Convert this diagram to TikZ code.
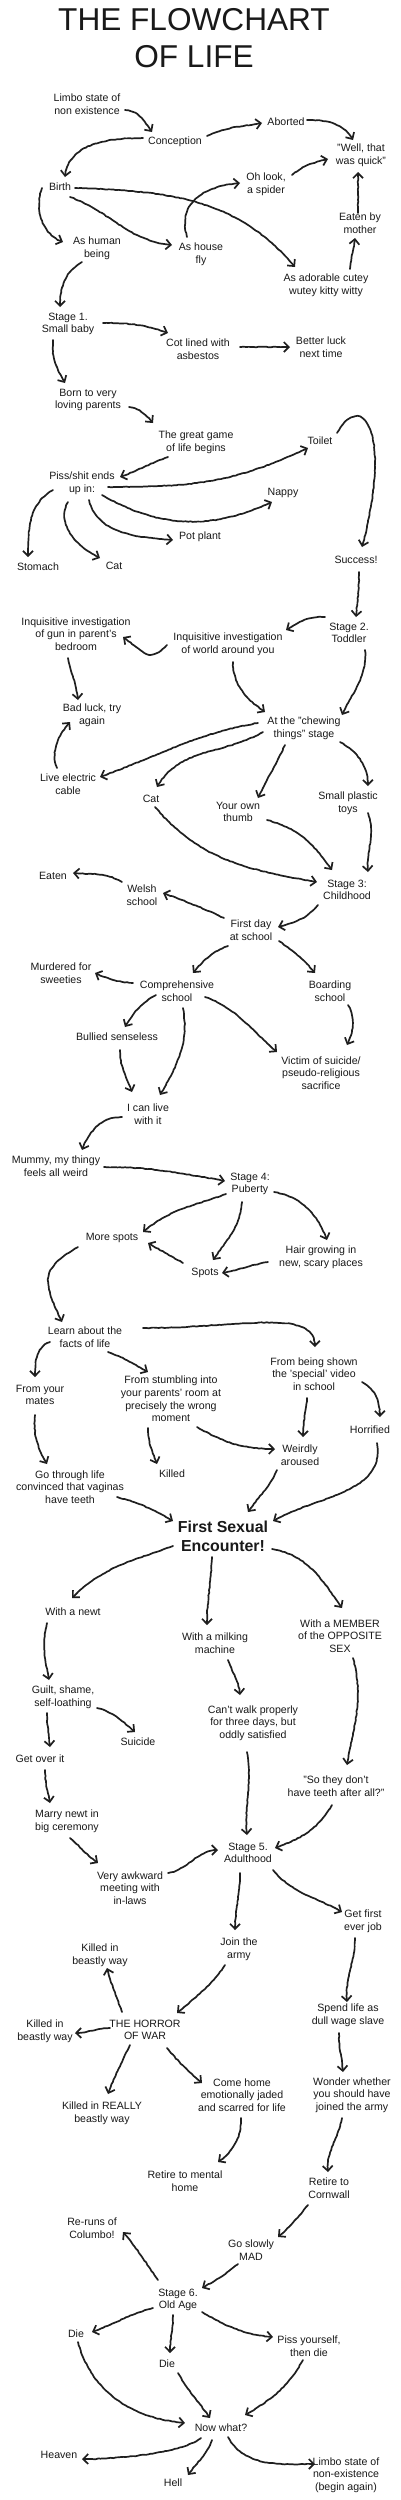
\documentclass[tikz,border=0pt]{standalone}
\usepackage{fontspec}
\setmainfont{Liberation Sans}
\usetikzlibrary{arrows.meta,decorations.pathmorphing}
\begin{document}
\begin{tikzpicture}[x=1pt,y=1pt,
  lbl/.style={align=center, inner sep=0pt, text=black!90, font=\fontsize{10.6}{12.6}\selectfont},
  big/.style={align=center, inner sep=0pt, text=black!90, font=\bfseries\fontsize{15.9}{19}\selectfont},
  ar/.style={draw=black!88, line width=1.7pt, line cap=round, line join=round,
    -{Straight Barb[length=5pt,width=10pt,line width=1.7pt]},
    decorate, decoration={random steps, segment length=2.5pt, amplitude=0.35pt, pre length=1pt, post length=4pt}}]
\pgfmathsetseed{7}
\fill[white] (0,0) rectangle (400,-2500);
\useasboundingbox (0,0) rectangle (400,-2500);

\node[align=center, inner sep=0pt, text=black!90, font=\fontsize{31.6}{36.6}\selectfont] (ttl) at (194,-38) {THE FLOWCHART\\OF LIFE};

\node[lbl] (lim) at (87,-104) {Limbo state of\\non existence};
\node[lbl] (con) at (175,-142) {Conception};
\node[lbl] (abo) at (286,-122) {Aborted};
\node[lbl] (wel) at (361,-155) {"Well, that\\was quick"};
\node[lbl] (spi) at (266,-184) {Oh look,\\a spider};
\node[lbl] (bir) at (60,-187) {Birth};
\node[lbl] (eat) at (360,-223) {Eaten by\\mother};
\node[lbl] (hum) at (97,-248) {As human\\being};
\node[lbl] (fly) at (201,-254) {As house\\fly};
\node[lbl] (kit) at (326,-285) {As adorable cutey\\wutey kitty witty};
\node[lbl] (st1) at (68,-324) {Stage 1.\\Small baby};
\node[lbl] (cot) at (198,-349) {Cot lined with\\asbestos};
\node[lbl] (bet) at (321,-347) {Better luck\\next time};
\node[lbl] (bor) at (88,-400) {Born to very\\loving parents};
\node[lbl] (gam) at (196,-442) {The great game\\of life begins};
\node[lbl] (toi) at (320,-441) {Toilet};
\node[lbl] (pis) at (82,-483) {Piss/shit ends\\up in:};
\node[lbl] (nap) at (283,-493) {Nappy};
\node[lbl] (pot) at (200,-537) {Pot plant};
\node[lbl] (sto) at (38,-567) {Stomach};
\node[lbl] (cat) at (114,-566) {Cat};
\node[lbl] (suc) at (356,-560) {Success!};
\node[lbl] (gun) at (76,-634) {Inquisitive investigation\\of gun in parent's\\bedroom};
\node[lbl] (st2) at (349,-633) {Stage 2.\\Toddler};
\node[lbl] (wor) at (228,-644) {Inquisitive investigation\\of world around you};
\node[lbl] (bad) at (92,-715) {Bad luck, try\\again};
\node[lbl] (che) at (304,-728) {At the "chewing\\things" stage};
\node[lbl] (liv) at (68,-784) {Live electric\\cable};
\node[lbl] (ca2) at (151,-799) {Cat};
\node[lbl] (thu) at (238,-812) {Your own\\thumb};
\node[lbl] (toy) at (348,-803) {Small plastic\\toys};
\node[lbl] (etn) at (53,-876) {Eaten};
\node[lbl] (wls) at (142,-895) {Welsh\\school};
\node[lbl] (st3) at (347,-890) {Stage 3:\\Childhood};
\node[lbl] (fst) at (251,-930) {First day\\at school};
\node[lbl] (mur) at (61,-973) {Murdered for\\sweeties};
\node[lbl] (com) at (177,-991) {Comprehensive\\school};
\node[lbl] (boa) at (330,-991) {Boarding\\school};
\node[lbl] (bul) at (117,-1037) {Bullied senseless};
\node[lbl] (vic) at (321,-1073) {Victim of suicide/\\pseudo-religious\\sacrifice};
\node[lbl] (liw) at (148,-1114) {I can live\\with it};
\node[lbl] (mum) at (56,-1166) {Mummy, my thingy\\feels all weird};
\node[lbl] (st4) at (250,-1184) {Stage 4:\\Puberty};
\node[lbl] (mor) at (112,-1238) {More spots};
\node[lbl] (hai) at (321,-1257) {Hair growing in\\new, scary places};
\node[lbl] (spo) at (205,-1273) {Spots};
\node[lbl] (lea) at (85,-1337) {Learn about the\\facts of life};
\node[lbl] (vid) at (314,-1374) {From being shown\\the 'special' video\\in school};
\node[lbl] (mat) at (40,-1395) {From your\\mates};
\node[lbl] (stu) at (171,-1399) {From stumbling into\\your parents' room at\\precisely the wrong\\moment};
\node[lbl] (hor) at (370,-1430) {Horrified};
\node[lbl] (wei) at (300,-1455) {Weirdly\\aroused};
\node[lbl] (got) at (70,-1487) {Go through life\\convinced that vaginas\\have teeth};
\node[lbl] (kil) at (172,-1474) {Killed};
\node[big] (fse) at (223,-1536) {First Sexual\\Encounter!};
\node[lbl] (new) at (73,-1612) {With a newt};
\node[lbl] (mil) at (215,-1643) {With a milking\\machine};
\node[lbl] (mem) at (340,-1636) {With a MEMBER\\of the OPPOSITE\\SEX};
\node[lbl] (gui) at (63,-1697) {Guilt, shame,\\self-loathing};
\node[lbl] (cwa) at (253,-1723) {Can't walk properly\\for three days, but\\oddly satisfied};
\node[lbl] (sui) at (138,-1742) {Suicide};
\node[lbl] (geo) at (40,-1759) {Get over it};
\node[lbl] (tee) at (336,-1786) {"So they don't\\have teeth after all?"};
\node[lbl] (mar) at (67,-1821) {Marry newt in\\big ceremony};
\node[lbl] (st5) at (248,-1853) {Stage 5.\\Adulthood};
\node[lbl] (awk) at (130,-1888) {Very awkward\\meeting with\\in-laws};
\node[lbl] (job) at (363,-1921) {Get first\\ever job};
\node[lbl] (arm) at (239,-1949) {Join the\\army};
\node[lbl] (kb1) at (100,-1955) {Killed in\\beastly way};
\node[lbl] (sla) at (348,-2015) {Spend life as\\dull wage slave};
\node[lbl] (war) at (145,-2030) {THE HORROR\\OF WAR};
\node[lbl] (kb2) at (45,-2031) {Killed in\\beastly way};
\node[lbl] (hom) at (242,-2095) {Come home\\emotionally jaded\\and scarred for life};
\node[lbl] (won) at (352,-2095) {Wonder whether\\you should have\\joined the army};
\node[lbl] (kre) at (102,-2113) {Killed in REALLY\\beastly way};
\node[lbl] (men) at (185,-2181) {Retire to mental\\home};
\node[lbl] (cor) at (329,-2188) {Retire to\\Cornwall};
\node[lbl] (col) at (92,-2228) {Re-runs of\\Columbo!};
\node[lbl] (mad) at (251,-2250) {Go slowly\\MAD};
\node[lbl] (st6) at (178,-2300) {Stage 6.\\Old Age};
\node[lbl] (di1) at (76,-2334) {Die};
\node[lbl] (psy) at (309,-2346) {Piss yourself,\\then die};
\node[lbl] (di2) at (167,-2364) {Die};
\node[lbl] (now) at (221,-2428) {Now what?};
\node[lbl] (hea) at (59,-2455) {Heaven};
\node[lbl] (li2) at (346,-2475) {Limbo state of\\non-existence\\(begin again)};
\node[lbl] (hel) at (173,-2483) {Hell};

% connectors
\draw[ar] ([shift={(38,-6)}]lim.center) to[out=-5,in=125] ([shift={(-23,10)}]con.center);
\draw[ar] ([shift={(-32,4)}]con.center) to[out=180,in=85] ([shift={(5,10)}]bir.center);
\draw[ar] ([shift={(32,6)}]con.center) to[out=25,in=190] ([shift={(-24,-1)}]abo.center);
\draw[ar] ([shift={(21,2)}]abo.center) to[out=0,in=120] ([shift={(-8,15)}]wel.center);
\draw[ar] ([shift={(26,9)}]spi.center) to[out=40,in=195] ([shift={(-33,-4)}]wel.center);
\draw[ar] ([shift={(-2,10)}]eat.center) to[out=90,in=-90] ([shift={(-3,-17)}]wel.center);
\draw[ar] ([shift={(24,16)}]kit.center) to[out=85,in=-95] ([shift={(-5,-15)}]eat.center);
\draw[ar] ([shift={(-18,-1)}]bir.center) to[out=250,in=160] ([shift={(-34,6)}]hum.center);
\draw[ar] ([shift={(10,-10)}]bir.center) to[out=-20,in=175] ([shift={(-29,9)}]fly.center);
\draw[ar] ([shift={(15,-1)}]bir.center) to[out=-2,in=130] ([shift={(-31,18)}]kit.center);
\draw[ar] ([shift={(-14,17)}]fly.center) to[out=105,in=185,out distance=40pt,in distance=30pt] ([shift={(-26,1)}]spi.center);
\draw[ar] ([shift={(-15,-14)}]hum.center) to[out=210,in=90] ([shift={(-8,17)}]st1.center);
\draw[ar] ([shift={(35,1)}]st1.center) to[out=0,in=160] ([shift={(-30,16)}]cot.center);
\draw[ar] ([shift={(42,2)}]cot.center) to[out=0,in=180] ([shift={(-31,0)}]bet.center);
\draw[ar] ([shift={(-15,-16)}]st1.center) to[out=-95,in=120] ([shift={(-23,17)}]bor.center);
\draw[ar] ([shift={(41,-7)}]bor.center) to[out=-10,in=130] ([shift={(-43,19)}]gam.center);
\draw[ar] ([shift={(-28,-15)}]gam.center) to[out=200,in=20] ([shift={(38,6)}]pis.center);
\draw[ar] ([shift={(26,-4)}]pis.center) to[out=0,in=205,out distance=90pt] ([shift={(-12,-7)}]toi.center);
\draw[ar] ([shift={(20,-12)}]pis.center) to[out=-30,in=205] ([shift={(-11,-9)}]nap.center);
\draw[ar] ([shift={(7,-17)}]pis.center) to[out=-75,in=175] ([shift={(-27,-3)}]pot.center);
\draw[ar] ([shift={(-14,-19)}]pis.center) to[out=240,in=155] ([shift={(-14,8)}]cat.center);
\draw[ar] ([shift={(-29,-7)}]pis.center) to[out=210,in=90] ([shift={(-10,10)}]sto.center);
\draw[ar] ([shift={(17,8)}]toi.center) to[out=60,in=75,out distance=50pt,in distance=120pt] ([shift={(6,13)}]suc.center);
\draw[ar] ([shift={(3,-12)}]suc.center) to[out=-90,in=85] ([shift={(7,16)}]st2.center);
\draw[ar] ([shift={(-24,16)}]st2.center) to[out=175,in=30] ([shift={(58,14)}]wor.center);
\draw[ar] ([shift={(-61,-1)}]wor.center) to[out=225,in=-35,looseness=1.5] ([shift={(47,-3)}]gun.center);
\draw[ar] ([shift={(-8,-24)}]gun.center) to[out=-80,in=95] ([shift={(-14,15)}]bad.center);
\draw[ar] ([shift={(-11,16)}]liv.center) to[out=110,in=230] ([shift={(-22,-7)}]bad.center);
\draw[ar] ([shift={(5,-18)}]wor.center) to[out=-90,in=145] ([shift={(-39,16)}]che.center);
\draw[ar] ([shift={(16,-17)}]st2.center) to[out=-85,in=65] ([shift={(38,13)}]che.center);
\draw[ar] ([shift={(-46,5)}]che.center) to[out=190,in=20] ([shift={(32,7)}]liv.center);
\draw[ar] ([shift={(-41,-4)}]che.center) to[out=210,in=60] ([shift={(6,12)}]ca2.center);
\draw[ar] ([shift={(-19,-17)}]che.center) to[out=-115,in=65] ([shift={(20,14)}]thu.center);
\draw[ar] ([shift={(36,-14)}]che.center) to[out=-30,in=90] ([shift={(20,17)}]toy.center);
\draw[ar] ([shift={(4,-8)}]ca2.center) to[out=-50,in=170] ([shift={(-30,8)}]st3.center);
\draw[ar] ([shift={(29,-8)}]thu.center) to[out=-15,in=125] ([shift={(-15,20)}]st3.center);
\draw[ar] ([shift={(20,-10)}]toy.center) to[out=-70,in=95] ([shift={(21,18)}]st3.center);
\draw[ar] ([shift={(-29,-15)}]st3.center) to[out=230,in=15] ([shift={(27,3)}]fst.center);
\draw[ar] ([shift={(-27,12)}]fst.center) to[out=155,in=-20] ([shift={(21,2)}]wls.center);
\draw[ar] ([shift={(-20,13)}]wls.center) to[out=150,in=-5] ([shift={(20,3)}]etn.center);
\draw[ar] ([shift={(-23,-16)}]fst.center) to[out=200,in=50] ([shift={(16,18)}]com.center);
\draw[ar] ([shift={(28,-11)}]fst.center) to[out=-35,in=130] ([shift={(-15,18)}]boa.center);
\draw[ar] ([shift={(-44,8)}]com.center) to[out=175,in=-25] ([shift={(34,0)}]mur.center);
\draw[ar] ([shift={(-21,-4)}]com.center) to[out=210,in=60] ([shift={(8,10)}]bul.center);
\draw[ar] ([shift={(6,-17)}]com.center) to[out=-80,in=60] ([shift={(12,19)}]liw.center);
\draw[ar] ([shift={(3,-13)}]bul.center) to[out=-90,in=110] ([shift={(-16,22)}]liw.center);
\draw[ar] ([shift={(28,-6)}]com.center) to[out=-20,in=140] ([shift={(-44,21)}]vic.center);
\draw[ar] ([shift={(18,-14)}]boa.center) to[out=-60,in=65] ([shift={(26,28)}]vic.center);
\draw[ar] ([shift={(-26,-3)}]liw.center) to[out=180,in=70] ([shift={(26,16)}]mum.center);
\draw[ar] ([shift={(48,-1)}]mum.center) to[out=0,in=170] ([shift={(-25,3)}]st4.center);
\draw[ar] ([shift={(-24,-10)}]st4.center) to[out=200,in=40] ([shift={(31,6)}]mor.center);
\draw[ar] ([shift={(-8,-18)}]st4.center) to[out=-95,in=55] ([shift={(8,13)}]spo.center);
\draw[ar] ([shift={(24,-8)}]st4.center) to[out=-10,in=110] ([shift={(6,17)}]hai.center);
\draw[ar] ([shift={(-22,10)}]spo.center) to[out=150,in=-30] ([shift={(36,-5)}]mor.center);
\draw[ar] ([shift={(-53,-5)}]hai.center) to[out=190,in=10] ([shift={(17,0)}]spo.center);
\draw[ar] ([shift={(-34,-9)}]mor.center) to[out=210,in=115,looseness=1.5] ([shift={(-23,15)}]lea.center);
\draw[ar] ([shift={(58,9)}]lea.center) to[out=0,in=90,out distance=100pt,in distance=40pt] ([shift={(1,27)}]vid.center);
\draw[ar] ([shift={(-35,-5)}]lea.center) to[out=200,in=90] ([shift={(-5,18)}]mat.center);
\draw[ar] ([shift={(23,-15)}]lea.center) to[out=-20,in=150] ([shift={(-23,27)}]stu.center);
\draw[ar] ([shift={(-5,-20)}]mat.center) to[out=-95,in=120] ([shift={(-23,23)}]got.center);
\draw[ar] ([shift={(-23,-29)}]stu.center) to[out=-90,in=110] ([shift={(-15,10)}]kil.center);
\draw[ar] ([shift={(26,-28)}]stu.center) to[out=-30,in=180] ([shift={(-25,6)}]wei.center);
\draw[ar] ([shift={(-7,-24)}]vid.center) to[out=-95,in=90] ([shift={(3,18)}]wei.center);
\draw[ar] ([shift={(48,-8)}]vid.center) to[out=-30,in=90] ([shift={(10,13)}]hor.center);
\draw[ar] ([shift={(-23,-15)}]wei.center) to[out=-115,in=55] ([shift={(25,24)}]fse.center);
\draw[ar] ([shift={(7,-13)}]hor.center) to[out=-80,in=30] ([shift={(50,15)}]fse.center);
\draw[ar] ([shift={(47,-10)}]got.center) to[out=-15,in=150] ([shift={(-50,15)}]fse.center);
\draw[ar] ([shift={(-50,-10)}]fse.center) to[out=200,in=45] ([shift={(-1,14)}]new.center);
\draw[ar] ([shift={(-11,-21)}]fse.center) to[out=-92,in=90] ([shift={(-8,18)}]mil.center);
\draw[ar] ([shift={(49,-13)}]fse.center) to[out=-10,in=125] ([shift={(2,28)}]mem.center);
\draw[ar] ([shift={(-26,-11)}]new.center) to[out=-105,in=100] ([shift={(-14,17)}]gui.center);
\draw[ar] ([shift={(13,-17)}]mil.center) to[out=-70,in=95] ([shift={(-13,28)}]cwa.center);
\draw[ar] ([shift={(13,-22)}]mem.center) to[out=-75,in=80] ([shift={(11,21)}]tee.center);
\draw[ar] ([shift={(34,-11)}]gui.center) to[out=-15,in=140] ([shift={(-3,10)}]sui.center);
\draw[ar] ([shift={(-16,-16)}]gui.center) to[out=-90,in=95] ([shift={(10,12)}]geo.center);
\draw[ar] ([shift={(5,-11)}]geo.center) to[out=-90,in=100] ([shift={(-17,18)}]mar.center);
\draw[ar] ([shift={(3,-17)}]mar.center) to[out=-40,in=145] ([shift={(-32,25)}]awk.center);
\draw[ar] ([shift={(38,15)}]awk.center) to[out=10,in=180] ([shift={(-30,3)}]st5.center);
\draw[ar] ([shift={(-6,-29)}]cwa.center) to[out=-80,in=95] ([shift={(-1,18)}]st5.center);
\draw[ar] ([shift={(-4,-19)}]tee.center) to[out=-120,in=20] ([shift={(27,5)}]st5.center);
\draw[ar] ([shift={(-8,-20)}]st5.center) to[out=-90,in=90] ([shift={(-4,19)}]arm.center);
\draw[ar] ([shift={(25,-17)}]st5.center) to[out=-50,in=150] ([shift={(-21,9)}]job.center);
\draw[ar] ([shift={(-14,-16)}]arm.center) to[out=-125,in=40] ([shift={(32,17)}]war.center);
\draw[ar] ([shift={(-23,18)}]war.center) to[out=110,in=-75] ([shift={(7,-13)}]kb1.center);
\draw[ar] ([shift={(-35,2)}]war.center) to[out=180,in=0] ([shift={(30,-2)}]kb2.center);
\draw[ar] ([shift={(-15,-15)}]war.center) to[out=-115,in=70] ([shift={(6,19)}]kre.center);
\draw[ar] ([shift={(22,-18)}]war.center) to[out=-50,in=140] ([shift={(-40,12)}]hom.center);
\draw[ar] ([shift={(-8,-17)}]job.center) to[out=-90,in=95] ([shift={(-1,13)}]sla.center);
\draw[ar] ([shift={(-9,-18)}]sla.center) to[out=-90,in=95] ([shift={(-9,23)}]won.center);
\draw[ar] ([shift={(-1,-23)}]hom.center) to[out=-90,in=35] ([shift={(33,19)}]men.center);
\draw[ar] ([shift={(-10,-23)}]won.center) to[out=-100,in=95] ([shift={(-1,16)}]cor.center);
\draw[ar] ([shift={(-21,-17)}]cor.center) to[out=-130,in=40] ([shift={(27,13)}]mad.center);
\draw[ar] ([shift={(-13,-14)}]mad.center) to[out=-140,in=30] ([shift={(24,12)}]st6.center);
\draw[ar] ([shift={(-20,20)}]st6.center) to[out=125,in=-50] ([shift={(31,-4)}]col.center);
\draw[ar] ([shift={(-25,-8)}]st6.center) to[out=195,in=20] ([shift={(16,2)}]di1.center);
\draw[ar] ([shift={(-5,-15)}]st6.center) to[out=-90,in=90] ([shift={(3,11)}]di2.center);
\draw[ar] ([shift={(24,-12)}]st6.center) to[out=-30,in=175] ([shift={(-36,9)}]psy.center);
\draw[ar] ([shift={(2,-8)}]di1.center) to[out=-75,in=175] ([shift={(-36,5)}]now.center);
\draw[ar] ([shift={(11,-9)}]di2.center) to[out=-60,in=125] ([shift={(-11,10)}]now.center);
\draw[ar] ([shift={(-6,-14)}]psy.center) to[out=-120,in=30] ([shift={(24,13)}]now.center);
\draw[ar] ([shift={(-20,-10)}]now.center) to[out=220,in=0,out distance=20pt] ([shift={(23,-4)}]hea.center);
\draw[ar] ([shift={(-9,-12)}]now.center) to[out=-110,in=55] ([shift={(15,8)}]hel.center);
\draw[ar] ([shift={(7,-9)}]now.center) to[out=-60,in=180] ([shift={(-31,11)}]li2.center);
\end{tikzpicture}
\end{document}
